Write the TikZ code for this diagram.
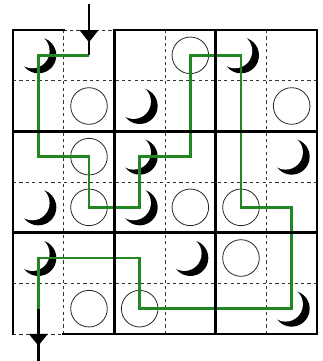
\documentclass[tikz,border=0pt]{standalone}
\usetikzlibrary{calc}
\definecolor{pathgreen}{RGB}{34,134,34}
\begin{document}
\begin{tikzpicture}[x=1pt,y=-1pt,
  cellline/.style={line width=0.9pt, dash pattern=on 3.2pt off 3.2pt, black!80},
  wall/.style={line width=2.6pt, line cap=rect},
  pearl/.style={draw=black!85, line width=0.8pt, fill=white},
  route/.style={draw=pathgreen, line width=2.6pt, line join=miter},
  stem/.style={line width=2.4pt}]
\useasboundingbox (0,0) rectangle (323,361);
\def\s{50.667}
\def\ox{13}
\def\oy{30}
\foreach \i in {0,...,5}{\foreach \j in {0,...,5}{
  \coordinate (c\i\j) at ({\ox+\s*(\i+0.5)},{\oy+\s*(\j+0.5)});}}
% moons (black disc, covered by an offset white disc)
\foreach \c in {c00,c21,c22,c40,c52,c03,c23,c04,c34,c55}{
  \fill[black] (\c) circle (18);
  \fill[white] ($(\c)+(-6.1,-4.4)$) circle (17.35);}
% thin dashed cell lines
\foreach \k in {1,3,5}{
  \draw[cellline] ({\ox+\s*\k},\oy) -- ({\ox+\s*\k},{\oy+6*\s});
  \draw[cellline] (\ox,{\oy+\s*\k}) -- ({\ox+6*\s},{\oy+\s*\k});}
\draw[cellline] ({\ox+\s},\oy) -- ({\ox+2*\s},\oy);
\draw[cellline] (\ox,{\oy+6*\s}) -- ({\ox+\s},{\oy+6*\s});
% pearls
\foreach \c in {c11,c12,c30,c51,c13,c33,c43,c44,c15,c25}{
  \path[pearl] (\c) circle (18.3);}
% route
\draw[route] (c10) -- (c00) -- (c02) -- (c12) -- (c13) -- (c23) -- (c22) -- (c32)
  -- (c30) -- (c40) -- (c43) -- (c53) -- (c55) -- (c25) -- (c24) -- (c04) -- (c05);
% walls
\draw[wall] (\ox,\oy) -- ({\ox+\s},\oy);
\draw[wall] ({\ox+2*\s},\oy) -- ({\ox+6*\s},\oy) -- ({\ox+6*\s},{\oy+6*\s}) -- ({\ox+\s},{\oy+6*\s});
\draw[wall] (\ox,\oy) -- (\ox,{\oy+6*\s});
\foreach \k in {2,4}{
  \draw[wall] ({\ox+\s*\k},\oy) -- ({\ox+\s*\k},{\oy+6*\s});
  \draw[wall] (\ox,{\oy+\s*\k}) -- ({\ox+6*\s},{\oy+\s*\k});}
% entry and exit arrows
\coordinate (entry) at ($(c10)+(0,-51)$);
\coordinate (exit) at ($(c05)+(0,52)$);
\draw[stem] (entry) -- (c10);
\fill ($(c10)+(-9.5,-25.3)$) -- ($(c10)+(9.5,-25.3)$) -- ($(c10)+(0,-13)$) -- cycle;
\draw[stem] (c05) -- (exit);
\fill ($(c05)+(-9.5,25.3)$) -- ($(c05)+(9.5,25.3)$) -- ($(c05)+(0,37)$) -- cycle;
\end{tikzpicture}
\end{document}
